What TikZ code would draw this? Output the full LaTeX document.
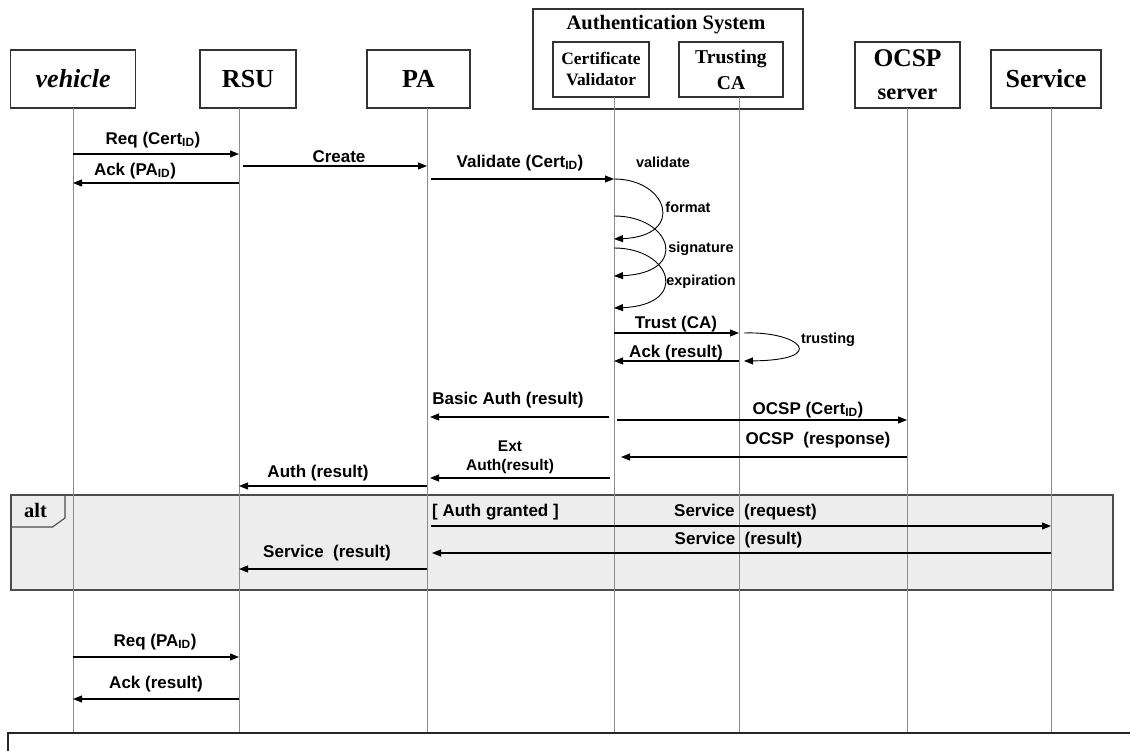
\documentclass[tikz,border=0pt]{standalone}
\usepackage{fontspec}
\setmainfont{Liberation Serif}
\newfontfamily\arialfont{Liberation Sans}
\usetikzlibrary{arrows.meta}

\begin{document}
\begin{tikzpicture}[x=1pt,y=-1pt,
  hdr/.style={draw=black!80,line width=1.1pt,fill=white,inner sep=0pt,align=center},
  life/.style={draw=black!45,line width=1pt},
  msg/.style={line width=1.1pt,-{Triangle[length=9pt,width=7pt]}},
  msglabel/.style={font=\arialfont\fontsize{17}{20}\selectfont\bfseries,inner sep=0pt},
  looplabel/.style={font=\arialfont\fontsize{14.5}{17}\selectfont\bfseries,inner sep=0pt}]

\useasboundingbox (0,0) rectangle (1130,751);

% alt frame
\draw[draw=black!70,line width=1.1pt,fill=black!7] (11,495) rectangle (1113,590);
\draw[draw=black!70,line width=1.1pt] (11,527) -- (52.5,527) -- (65,518) -- (65,495);
\node[font=\fontsize{20.5}{24}\selectfont\bfseries] (alt) at (35.5,510) {alt};

% lifeline heads
\node[hdr,minimum width=125,minimum height=58,font=\bfseries\itshape\fontsize{26}{30}\selectfont] (vehicle) at (73.2,79) {vehicle};
\node[hdr,minimum width=96,minimum height=58,font=\bfseries\fontsize{26}{30}\selectfont] (rsu) at (248,79) {RSU};
\node[hdr,minimum width=103,minimum height=58,font=\bfseries\fontsize{26}{30}\selectfont] (pa) at (418.5,79) {PA};
\node[hdr,minimum width=270,minimum height=100] (authsys) at (668,59) {};
\node[font=\bfseries\fontsize{20.5}{24}\selectfont] (authtitle) at (666,25) {Authentication System};
\node[hdr,minimum width=96,minimum height=55,font=\bfseries\fontsize{17.4}{21}\selectfont] (certval) at (601,69.5) {Certificate\\Validator};
\node[hdr,minimum width=104,minimum height=55,font=\bfseries\fontsize{19.6}{26}\selectfont] (trustca) at (731,69.5) {Trusting\\CA};
\node[hdr,minimum width=105,minimum height=66,font=\bfseries\fontsize{25.5}{33}\selectfont] (ocsp) at (907.5,75) {OCSP\\{\fontsize{22.4}{33}\selectfont server}};
\node[hdr,minimum width=110,minimum height=58,font=\bfseries\fontsize{26}{30}\selectfont] (service) at (1046,79) {Service};

% lifelines
\coordinate (L-veh) at (73,108);
\coordinate (L-rsu) at (239,108);
\coordinate (L-pa) at (427,108);
\coordinate (L-cert) at (614,97);
\coordinate (L-trust) at (739,97);
\coordinate (L-ocsp) at (907,108);
\coordinate (L-svc) at (1051,108);
\foreach \l in {L-veh,L-rsu,L-pa,L-cert,L-trust,L-ocsp,L-svc}
  \draw[life] (\l) -- (\l |- 0,733);

\draw[line width=1.5pt,draw=black!85] (8,760) -- (8,733) -- (1140,733);

% messages
\draw[msg] (L-veh |- 0,154) -- (L-rsu |- 0,154);
\node[msglabel] (m-req) at (153,140) {Req (Cert\textsubscript{ID})};
\draw[msg] (L-rsu |- 0,183) -- (L-veh |- 0,183);
\node[msglabel] (m-ack) at (135,171) {Ack (PA\textsubscript{ID})};
\draw[msg,shorten <=4pt] (L-rsu |- 0,166) -- (L-pa |- 0,166);
\node[msglabel] (m-create) at (339,157) {Create};
\draw[msg,shorten <=4pt] (L-pa |- 0,179) -- (L-cert |- 0,179);
\node[msglabel] (m-valid) at (520,163) {Validate (Cert\textsubscript{ID})};
\node[looplabel] (l-valid) at (663,162) {validate};

% checks
\draw[msg,line width=0.9pt] (L-cert |- 0,179) .. controls +(54,0) and +(72,-3) .. (L-cert |- 0,239);
\draw[msg,line width=0.9pt] (L-cert |- 0,216) .. controls +(58,0) and +(76,-3) .. (L-cert |- 0,276);
\draw[msg,line width=0.9pt] (L-cert |- 0,248) .. controls +(58,0) and +(76,-3) .. (L-cert |- 0,308);
\node[looplabel] (l-format) at (688,207) {format};
\node[looplabel] (l-sig) at (701,249) {signature};
\node[looplabel] (l-exp) at (701,282) {expiration};

\draw[msg] (L-cert |- 0,333) -- (L-trust |- 0,333);
\node[msglabel] (m-trust) at (676,324) {Trust (CA)};
\draw[msg] (L-trust |- 0,361) -- (L-cert |- 0,361);
\node[msglabel] (m-ackres) at (676,353) {Ack (result)};
\coordinate (tr-a) at (744,333);
\coordinate (tr-b) at (744,361);
\draw[msg,line width=0.9pt] (tr-a) .. controls (800,331) and (830,360) .. (tr-b);
\node[looplabel] (l-trust) at (828,340) {trusting};

\draw[msg,shorten <=5pt,shorten >=3pt] (L-cert |- 0,417) -- (L-pa |- 0,417);
\node[msglabel] (m-basic) at (508,400) {Basic Auth (result)};
\draw[msg,shorten <=3pt] (L-cert |- 0,420) -- (L-ocsp |- 0,420);
\node[msglabel] (m-ocspreq) at (808,410) {OCSP (Cert\textsubscript{ID})};
\draw[msg,shorten >=7pt] (L-ocsp |- 0,457) -- (L-cert |- 0,457);
\node[msglabel] (m-ocspres) at (818,440) {OCSP\ \ (response)};
\draw[msg,shorten <=4pt,shorten >=3pt] (L-cert |- 0,478) -- (L-pa |- 0,478);
\node[msglabel,font=\arialfont\fontsize{15.5}{19}\selectfont\bfseries,align=center] (m-ext) at (510,457) {Ext\\Auth(result)};
\draw[msg] (L-pa |- 0,486) -- (L-rsu |- 0,486);
\node[msglabel] (m-auth) at (318,473) {Auth (result)};

% alt content
\node[msglabel,anchor=west] (grant) at (432,512) {[ Auth granted ]};
\draw[msg,shorten <=4pt] (L-pa |- 0,526) -- (L-svc |- 0,526);
\node[msglabel] (m-sreq) at (745.5,512) {Service\ \ (request)};
\draw[msg,shorten >=5pt] (L-svc |- 0,553) -- (L-pa |- 0,553);
\node[msglabel] (m-sres) at (738.5,540) {Service\ \ (result)};
\draw[msg] (L-pa |- 0,569) -- (L-rsu |- 0,569);
\node[msglabel] (m-sres2) at (327,553) {Service\ \ (result)};

% second request
\draw[msg] (L-veh |- 0,657) -- (L-rsu |- 0,657);
\node[msglabel] (m-req2) at (155,642) {Req (PA\textsubscript{ID})};
\draw[msg] (L-rsu |- 0,699) -- (L-veh |- 0,699);
\node[msglabel] (m-ack2) at (156,684) {Ack (result)};

\end{tikzpicture}
\end{document}
